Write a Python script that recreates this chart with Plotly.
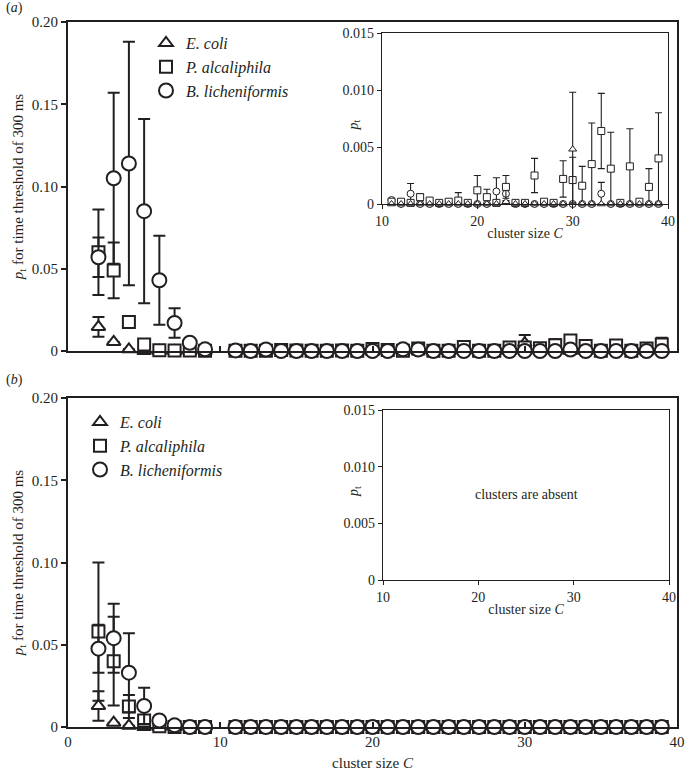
import plotly.graph_objects as go

# ---------------- data ----------------
cluster_size = [2, 3, 4, 5, 6, 7, 8, 9] + list(range(11, 40))

# panel (a)
ecoli_a = [0.0146, 0.0055, 0.001, 0.0, 0, 0, 0, 0,
           0, 0, 0, 0, 0, 0, 0, 0, 0, 0, 0, 0, 0.0002, 0, 0, 0, 0, 0, 0,
           0.0048, 0, 0, 0, 0, 0, 0, 0, 0, 0]
ecoli_a_err = [0.006, 0, 0, 0, 0, 0, 0, 0,
               0, 0, 0, 0, 0, 0, 0, 0, 0, 0, 0, 0, 0, 0, 0, 0, 0, 0, 0,
               0.005, 0, 0, 0, 0, 0, 0, 0, 0, 0]
palc_a = [0.060, 0.049, 0.0177, 0.004, 0.0005, 0.0003, 0.0003, 0.0001,
          0.0002, 0.0002, 0.0001, 0.0006, 0.0003, 0.0001, 0.0002, 0.0003, 0.0001,
          0.0012, 0.0006, 0.0001, 0.0015, 0.0001, 0.0001, 0.0025, 0.0002, 0.0001,
          0.0022, 0.0021, 0.0016, 0.0035, 0.0064, 0.0031, 0.0001, 0.0033, 0.0002,
          0.0015, 0.0040]
palc_a_err = [0.026, 0.017, 0.002, 0.001, 0, 0, 0, 0,
              0, 0, 0, 0.0003, 0, 0, 0, 0.0007, 0,
              0.0013, 0.0007, 0, 0.001, 0, 0, 0.0015, 0, 0,
              0.0016, 0.002, 0.0017, 0.0036, 0.0033, 0.0032, 0, 0.0033, 0,
              0.0016, 0.004]
blich_a = [0.057, 0.105, 0.114, 0.085, 0.043, 0.017, 0.005, 0.001,
           0.00035, 0, 0.0009, 0, 0, 0, 0, 0, 0, 0, 0, 0.0011, 0.0009, 0, 0, 0, 0, 0,
           0, 0, 0, 0, 0.0009, 0, 0, 0, 0, 0, 0]
blich_a_err = [0.012, 0.052, 0.074, 0.056, 0.027, 0.009, 0, 0,
               0, 0, 0.0009, 0, 0, 0, 0, 0, 0, 0, 0, 0.0012, 0.0006, 0, 0, 0, 0, 0,
               0, 0, 0, 0, 0.001, 0, 0, 0, 0, 0, 0]

# panel (b)
ecoli_b = [0.0128, 0.0026, 0.0008] + [0] * 34
ecoli_b_err = [0.009, 0, 0] + [0] * 34
palc_b = [0.058, 0.040, 0.0125, 0.004, 0.0005] + [0] * 32
palc_b_err = [0.042, 0.027, 0.007, 0.003, 0] + [0] * 32
blich_b = [0.0476, 0.054, 0.033, 0.0128, 0.004, 0.001] + [0] * 31
blich_b_err = [0.0146, 0.021, 0.024, 0.011, 0, 0] + [0] * 31

series_names = ["E. coli", "P. alcaliphila", "B. licheniformis"]
main_yticks = [0, 0.05, 0.10, 0.15, 0.20]
main_yticklabels = ["0", "0.05", "0.10", "0.15", "0.20"]
inset_yticks = [0, 0.005, 0.010, 0.015]
inset_yticklabels = ["0", "0.005", "0.010", "0.015"]
xticks = [0, 10, 20, 30, 40]
inset_xticks = [10, 20, 30, 40]

# ---------------- styling ----------------
W, H = 686, 773
INK = "#231f20"
FONT = "Liberation Serif"
symbols = ["triangle-up", "square", "circle"]


def px_x(p):
    return p / W


def px_y(p):
    return 1 - p / H


def lower(vals, errs):
    return [min(e, v) for v, e in zip(vals, errs)]


fig = go.Figure()


def add_series(xs, ys, errs, sym, name, xa, ya, size, lw, ew, ecap, legend=None):
    fig.add_trace(go.Scatter(
        x=xs, y=ys, mode="markers", name=name,
        xaxis=xa, yaxis=ya,
        marker=dict(symbol=sym, size=size, color="white",
                    line=dict(color=INK, width=lw)),
        error_y=dict(type="data", symmetric=False, array=errs,
                     arrayminus=lower(ys, errs), color=INK,
                     thickness=ew, width=ecap),
        cliponaxis=False,
        showlegend=legend is not None,
        legend=legend if legend else "legend",
    ))


# main panels: triangles, squares, circles (circles on top)
for vals, errs, sym, nm in zip([ecoli_a, palc_a, blich_a],
                               [ecoli_a_err, palc_a_err, blich_a_err],
                               symbols, series_names):
    s = 12 if sym != "circle" else 14
    add_series(cluster_size, vals, errs, sym, nm, "x", "y", s, 2, 2, 6, legend="legend")

for vals, errs, sym, nm in zip([ecoli_b, palc_b, blich_b],
                               [ecoli_b_err, palc_b_err, blich_b_err],
                               symbols, series_names):
    s = 12 if sym != "circle" else 14
    add_series(cluster_size, vals, errs, sym, nm, "x2", "y2", s, 2, 2, 6, legend="legend2")

# inset (a): values for cluster sizes >= 11
idx = [i for i, c in enumerate(cluster_size) if c >= 11]
xs_in = [cluster_size[i] for i in idx]
for vals, errs, sym, nm in zip([blich_a, palc_a, ecoli_a],
                               [blich_a_err, palc_a_err, ecoli_a_err],
                               symbols[::-1], series_names[::-1]):
    add_series(xs_in, [vals[i] for i in idx], [errs[i] for i in idx],
               sym, nm, "x3", "y3", 7, 1, 1.1, 3.5)

# ---------------- axes ----------------
main_x_dom = [px_x(68), px_x(677)]
tickfont = dict(family=FONT, size=15, color=INK)
inset_tickfont = dict(family=FONT, size=14, color=INK)

common_x = dict(range=[0, 40], tickvals=xticks, showgrid=False, zeroline=False,
                showline=True, linecolor=INK, linewidth=2, mirror=True,
                ticks="inside", ticklen=5, tickcolor=INK, tickwidth=1.5,
                tickfont=tickfont, automargin=False)
common_y = dict(range=[0, 0.2], tickvals=main_yticks, ticktext=main_yticklabels,
                showgrid=False, zeroline=False, showline=True, linecolor=INK,
                linewidth=2, mirror=True, ticks="outside", ticklen=5,
                tickcolor=INK, tickwidth=1.5, tickfont=tickfont, automargin=False)

ytitle = dict(text="<i>p</i><sub>t</sub> for time threshold of 300 ms",
              font=dict(family=FONT, size=15, color=INK), standoff=5)

fig.update_layout(
    xaxis=dict(domain=main_x_dom, anchor="y", showticklabels=False, **common_x),
    yaxis=dict(domain=[px_y(351), px_y(22)], anchor="x", title=ytitle, **common_y),
    xaxis2=dict(domain=main_x_dom, anchor="y2",
                title=dict(text="cluster size <i>C</i>",
                           font=dict(family=FONT, size=15, color=INK), standoff=8),
                **common_x),
    yaxis2=dict(domain=[px_y(727), px_y(398)], anchor="x2", title=ytitle, **common_y),
)

inset_x = dict(range=[10, 40], tickvals=inset_xticks, showgrid=False, zeroline=False,
               showline=True, linecolor=INK, linewidth=1.3, mirror=True,
               ticks="outside", ticklen=4, tickcolor=INK, tickfont=inset_tickfont,
               automargin=False,
               title=dict(text="cluster size <i>C</i>",
                          font=dict(family=FONT, size=14, color=INK), standoff=0))
inset_y = dict(range=[0, 0.015], tickvals=inset_yticks, ticktext=inset_yticklabels,
               showgrid=False, zeroline=False, showline=True, linecolor=INK,
               linewidth=1.3, mirror=True, ticks="outside", ticklen=4,
               tickcolor=INK, tickfont=inset_tickfont, automargin=False)

fig.update_layout(
    xaxis3=dict(domain=[px_x(382), px_x(668)], anchor="y3", **inset_x),
    yaxis3=dict(domain=[px_y(204), px_y(33)], anchor="x3", **inset_y),
    xaxis4=dict(domain=[px_x(383), px_x(669)], anchor="y4", **inset_x),
    yaxis4=dict(domain=[px_y(580), px_y(410)], anchor="x4", **inset_y),
)

# empty inset (b): axis with no data
fig.add_trace(go.Scatter(x=[], y=[], xaxis="x4", yaxis="y4", showlegend=False))

legend_common = dict(font=dict(family=FONT, size=16, color=INK, style="italic"),
                     bgcolor="rgba(0,0,0,0)", xanchor="left", yanchor="top",
                     tracegroupgap=0, itemwidth=30)
fig.update_layout(
    legend=dict(x=px_x(146), y=px_y(26), **legend_common),
    legend2=dict(x=px_x(80), y=px_y(405), **legend_common),
)

ann_font = dict(family=FONT, size=14, color=INK)
fig.update_layout(
    annotations=[
        dict(text="(<i>a</i>)", x=px_x(4), y=px_y(8), xref="paper", yref="paper",
             xanchor="left", yanchor="middle", showarrow=False, font=ann_font),
        dict(text="(<i>b</i>)", x=px_x(4), y=px_y(380), xref="paper", yref="paper",
             xanchor="left", yanchor="middle", showarrow=False, font=ann_font),
        dict(text="<i>p</i><sub>t</sub>", x=px_x(354), y=px_y(118), xref="paper",
             yref="paper", textangle=-90, showarrow=False, font=ann_font),
        dict(text="<i>p</i><sub>t</sub>", x=px_x(354), y=px_y(492), xref="paper",
             yref="paper", textangle=-90, showarrow=False, font=ann_font),
        dict(text="clusters are absent", x=25, y=0.0075, xref="x4", yref="y4",
             showarrow=False, font=ann_font),
    ],
    width=W, height=H,
    margin=dict(l=0, r=0, t=0, b=0, autoexpand=False),
    paper_bgcolor="white", plot_bgcolor="white",
    font=dict(family=FONT, color=INK),
)

fig.write_html("out.html", config={"displayModeBar": False},
               post_script="document.body.style.margin='0';")
